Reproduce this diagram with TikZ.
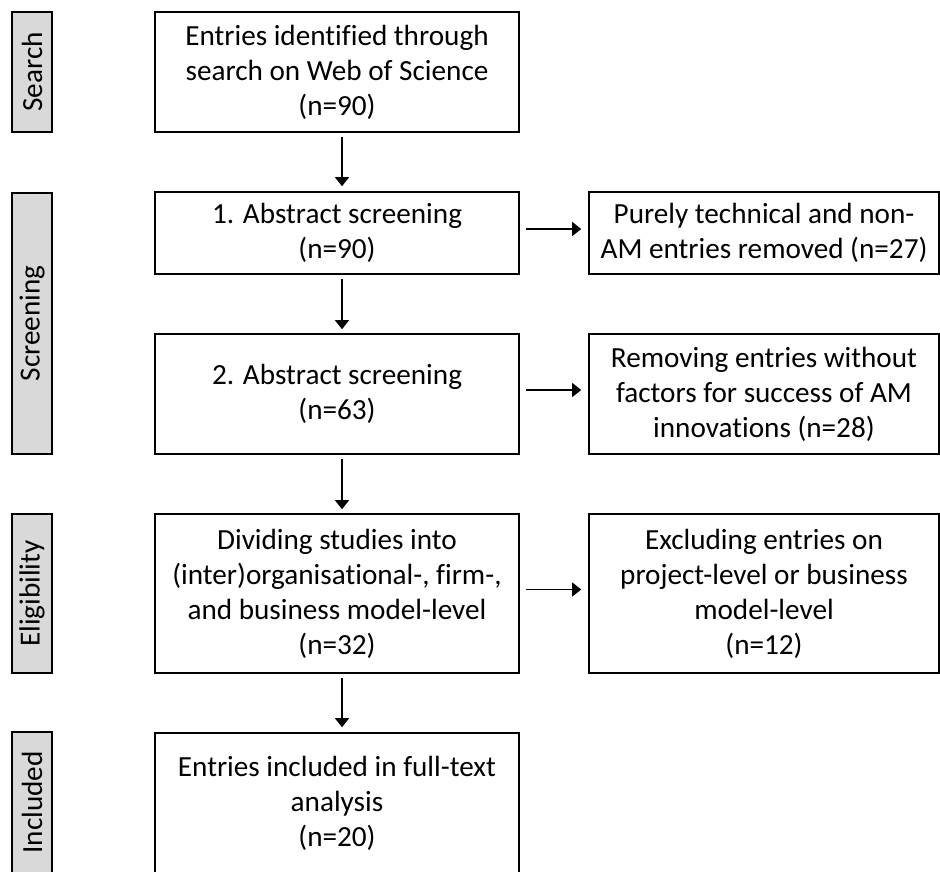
\documentclass[tikz,border=0pt]{standalone}
\usepackage{fontspec}
\setmainfont{Carlito}[RawFeature={-liga;-clig;-dlig;-calt}]
\usetikzlibrary{arrows.meta}
\definecolor{labelgray}{HTML}{D9D9D9}
\tikzset{
  every node/.style={font=\fontsize{29.2}{35}\selectfont},
  flowbox/.style={draw=black, line width=1.6pt, align=center, inner sep=0pt, minimum width=364pt},
  sidebox/.style={draw=black, line width=1.6pt, align=center, inner sep=0pt, minimum width=350pt},
  phasebox/.style={draw=black, line width=1.9pt, fill=labelgray, inner sep=0pt, minimum width=40pt, rotate=90},
  arr/.style={draw=black, line width=1.4pt, -{Triangle[width=14pt,length=9pt]}}
}
\begin{document}
\begin{tikzpicture}[x=1pt,y=-1pt]
\useasboundingbox (0,0) rectangle (940,871);
% phase labels (rotated: minimum height acts as width, minimum width as length)
\node[phasebox, minimum height=40pt, minimum width=120pt] (l1) at (32,72) {Search};
\node[phasebox, minimum height=40pt, minimum width=261pt] (l2) at (32,323.5) {Screening};
\node[phasebox, minimum height=40pt, minimum width=159pt] (l3) at (32,593.5) {Eligibility};
\node[phasebox, minimum height=40pt, minimum width=141pt] (l4) at (32,802.5) {Included};
% main column
\node[flowbox, minimum height=120pt] (b1) at (337,72) {Entries identified through\\search on Web of Science\\(n=90)};
\node[flowbox, minimum height=82pt] (b2) at (337,233) {1. Abstract screening\\(n=90)};
\node[flowbox, minimum height=120pt] (b3) at (337,394) {2. Abstract screening\\(n=63)};
\node[flowbox, minimum height=159pt] (b4) at (337,593.5) {Dividing studies into\\(inter)organisational-, firm-,\\and business model-level\\(n=32)};
\node[flowbox, minimum height=140pt] (b5) at (337,803) {Entries included in full-text\\analysis\\(n=20)};
% side column
\node[sidebox, minimum height=82pt] (r1) at (764,233) {Purely technical and non-\\AM entries removed (n=27)};
\node[sidebox, minimum height=120pt] (r2) at (764,394) {Removing entries without\\factors for success of AM\\innovations (n=28)};
\node[sidebox, minimum height=159pt] (r3) at (764,593.5) {Excluding entries on\\project-level or business\\model-level\\(n=12)};
% vertical arrows
\draw[arr] ([xshift=5pt,yshift=-4pt]b1.south) -- ([xshift=5pt,yshift=5pt]b2.north);
\draw[arr] ([xshift=5pt,yshift=-4pt]b2.south) -- ([xshift=5pt,yshift=4pt]b3.north);
\draw[arr] ([xshift=5pt,yshift=-4pt]b3.south) -- ([xshift=5pt,yshift=4pt]b4.north);
\draw[arr] ([xshift=5pt,yshift=-4pt]b4.south) -- ([xshift=5pt,yshift=5pt]b5.north);
% horizontal arrows
\draw[arr] ([xshift=6pt,yshift=4pt]b2.east) -- ([xshift=-7pt,yshift=4pt]r1.west);
\draw[arr] ([xshift=6pt,yshift=4pt]b3.east) -- ([xshift=-7pt,yshift=4pt]r2.west);
\draw[arr] ([xshift=6pt,yshift=4pt]b4.east) -- ([xshift=-7pt,yshift=4pt]r3.west);
\end{tikzpicture}
\end{document}
